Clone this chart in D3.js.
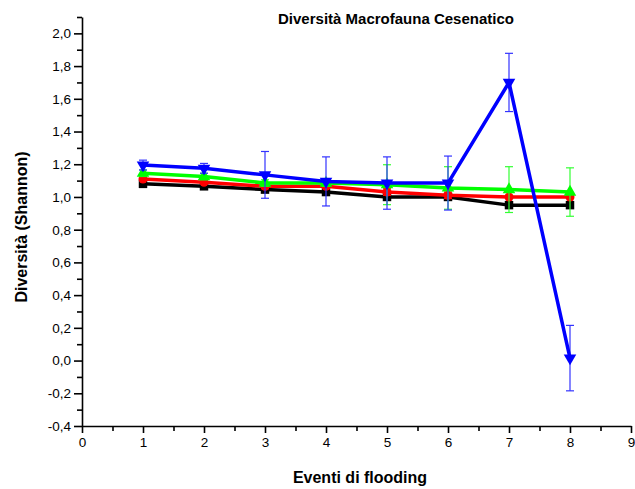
<!DOCTYPE html>
<html>
<head>
<meta charset="utf-8">
<script src="https://cdn.jsdelivr.net/npm/d3@7/dist/d3.min.js"></script>
<style>
  html, body { margin: 0; padding: 0; background: #fff; }
  svg { display: block; font-family: "Liberation Sans", Arial, sans-serif; }
</style>
</head>
<body>
<svg id="chart" width="635" height="489"></svg>
<script>
// Flooding events on the x axis
const events = [1, 2, 3, 4, 5, 6, 7, 8];

// Shannon diversity per series, with standard errors
const seriesBlack = [1.08, 1.065, 1.045, 1.03, 1.00, 1.00, 0.95, 0.95];
const errBlack    = [0.01, 0.01, 0.015, 0.015, 0.02, 0.02, 0.01, 0.01];
const seriesRed   = [1.11, 1.09, 1.065, 1.065, 1.03, 1.01, 1.00, 1.00];
const errRed      = [0.01, 0.01, 0.015, 0.015, 0.02, 0.02, 0.01, 0.01];
const seriesGreen = [1.145, 1.125, 1.085, 1.085, 1.075, 1.055, 1.045, 1.03];
const errGreen    = [0.02, 0.02, 0.02, 0.02, 0.122, 0.13, 0.14, 0.148];
const seriesBlue  = [1.195, 1.175, 1.135, 1.095, 1.085, 1.085, 1.70, 0.015];
const errBlue     = [0.03, 0.03, 0.143, 0.15, 0.16, 0.165, 0.178, 0.20];

// Axis ticks
const xTicks = [0, 1, 2, 3, 4, 5, 6, 7, 8, 9];
const xMinorTicks = [0.5, 1.5, 2.5, 3.5, 4.5, 5.5, 6.5, 7.5, 8.5];
const yTicks = [-0.4, -0.2, 0.0, 0.2, 0.4, 0.6, 0.8, 1.0, 1.2, 1.4, 1.6, 1.8, 2.0];
const yMinorTicks = [-0.3, -0.1, 0.1, 0.3, 0.5, 0.7, 0.9, 1.1, 1.3, 1.5, 1.7, 1.9, 2.1];

const titleText = "Diversità Macrofauna Cesenatico";
const xTitle = "Eventi di flooding";
const yTitle = "Diversità (Shannon)";

const series = [
  { values: seriesBlack, err: errBlack, color: "#000000", errColor: "#000000", symbol: d3.symbolSquare, size: 72, rotate: 0 },
  { values: seriesRed,   err: errRed,   color: "#ff0000", errColor: "#ff0000", symbol: d3.symbolCircle, size: 64, rotate: 0 },
  { values: seriesGreen, err: errGreen, color: "#00ff00", errColor: "#33ff33", symbol: d3.symbolTriangle, size: 68, rotate: 0 },
  { values: seriesBlue,  err: errBlue,  color: "#0000ff", errColor: "#3333ff", symbol: d3.symbolTriangle, size: 68, rotate: 180 }
];

const svg = d3.select("#chart");

const x = d3.scaleLinear().domain([0, 9]).range([82, 631]);
const y = d3.scaleLinear().domain([-0.4, 2.1]).range([426, 17]);

const fmt = v => v.toFixed(1).replace(".", ",");

// Y axis: major + minor ticks
svg.append("g").attr("transform", `translate(${x(0)},0)`)
  .call(d3.axisLeft(y).tickValues(yTicks).tickSize(8).tickSizeOuter(0).tickPadding(3).tickFormat(fmt));
svg.append("g").attr("transform", `translate(${x(0)},0)`)
  .call(d3.axisLeft(y).tickValues(yMinorTicks).tickSize(5).tickSizeOuter(0).tickFormat(""))
  .select(".domain").remove();

// X axis: major + minor ticks
svg.append("g").attr("transform", `translate(0,${y(-0.4)})`)
  .call(d3.axisBottom(x).tickValues(xTicks).tickSize(7).tickSizeOuter(0).tickPadding(4).tickFormat(d3.format("d")));
svg.append("g").attr("transform", `translate(0,${y(-0.4)})`)
  .call(d3.axisBottom(x).tickValues(xMinorTicks).tickSize(5).tickSizeOuter(0).tickFormat(""))
  .select(".domain").remove();

svg.selectAll(".domain, .tick line").attr("stroke", "#000").attr("stroke-width", 1.6);
svg.selectAll(".tick text").attr("fill", "#000").style("font-size", "13.5px")
  .style("font-family", '"Liberation Sans", Arial, sans-serif');

// Series: error bars, line, then markers
const line = d3.line().x((d, i) => x(events[i])).y(d => y(d));
const capW = 4;

series.forEach(s => {
  const g = svg.append("g");
  const eb = g.append("g").attr("stroke", s.errColor).attr("stroke-width", 1.2);
  s.values.forEach((v, i) => {
    const cx = x(events[i]);
    const top = y(v + s.err[i]), bot = y(v - s.err[i]);
    eb.append("line").attr("x1", cx).attr("x2", cx).attr("y1", top).attr("y2", bot);
    eb.append("line").attr("x1", cx - capW).attr("x2", cx + capW).attr("y1", top).attr("y2", top);
    eb.append("line").attr("x1", cx - capW).attr("x2", cx + capW).attr("y1", bot).attr("y2", bot);
  });
  g.append("path").datum(s.values).attr("d", line)
    .attr("fill", "none").attr("stroke", s.color).attr("stroke-width", 3.5)
    .attr("stroke-linejoin", "round");
  const sym = d3.symbol().type(s.symbol).size(s.size);
  g.selectAll("path.m").data(s.values).enter().append("path").attr("class", "m")
    .attr("d", sym)
    .attr("transform", (d, i) => `translate(${x(events[i])},${y(d)}) rotate(${s.rotate})`)
    .attr("fill", s.color);
});

// Titles
svg.append("text").attr("x", 396).attr("y", 24).attr("text-anchor", "middle")
  .style("font-size", "15px").style("font-weight", "bold").text(titleText);
svg.append("text").attr("x", 360).attr("y", 483).attr("text-anchor", "middle")
  .style("font-size", "16px").style("font-weight", "bold").text(xTitle);
svg.append("text").attr("transform", "translate(27,227) rotate(-90)").attr("text-anchor", "middle")
  .style("font-size", "16px").style("font-weight", "bold").text(yTitle);
</script>
</body>
</html>
